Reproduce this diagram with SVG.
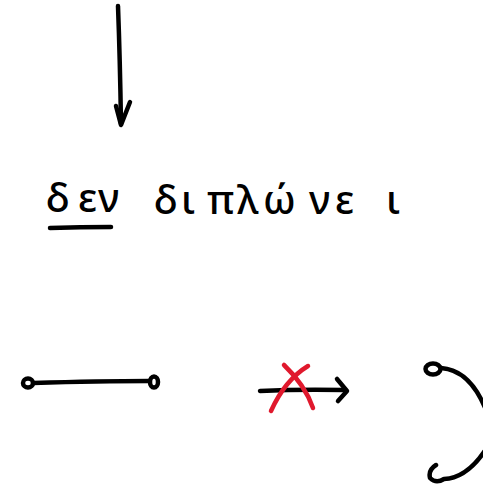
<svg xmlns="http://www.w3.org/2000/svg" width="483" height="486" viewBox="0 0 483 486">
<style>
.s{fill:none;stroke:#000;stroke-width:4.5;stroke-linecap:round;stroke-linejoin:round}
.r{fill:none;stroke:#e0192d;stroke-width:4.5;stroke-linecap:round;stroke-linejoin:round}
.t{font-family:"Noto Sans","DejaVu Sans",sans-serif;font-size:40px;fill:#000;font-weight:500}
</style>
<rect width="483" height="486" fill="#fff"/>
<g id="connectors">
<path class="s" d="M118,6 Q120,60 121,124"/>
<path class="s" d="M116,106 L121,125 L130,102"/>
</g>
<g id="label">
<text class="t" y="212"><tspan x="46">δ</tspan><tspan x="78">ε</tspan><tspan x="98">ν</tspan></text>
<path class="s" d="M50,228 Q80,227 111,227"/>
<text class="t" y="214"><tspan x="154">δ</tspan><tspan x="181">ι</tspan><tspan x="207">π</tspan><tspan x="237">λ</tspan><tspan x="263">ώ</tspan><tspan x="309">ν</tspan><tspan x="335">ε</tspan><tspan x="386">ι</tspan></text>
</g>
<g id="edge">
<ellipse class="s" cx="28" cy="383" rx="5" ry="4.5"/>
<path class="s" d="M33,383 Q100,381 149,381"/>
<ellipse class="s" cx="154" cy="382" rx="4" ry="5.5"/>
</g>
<g id="crossed-arrow">
<path class="s" d="M260,391 Q300,389 344,390"/>
<path class="s" d="M337,379 L347,391 L338,401"/>
<path class="r" d="M284,365 Q305,385 313,408"/>
<path class="r" d="M308,366 Q285,380 271,411"/>
</g>
<g id="loop">
<ellipse class="s" cx="433" cy="369" rx="7.5" ry="5.5"/>
<path class="s" d="M441,368 Q470,370 486,410"/>
<path class="s" d="M436,465 Q428,470 430,478 Q436,484 444,479 Q466,478 484,452"/>
</g>
</svg>
